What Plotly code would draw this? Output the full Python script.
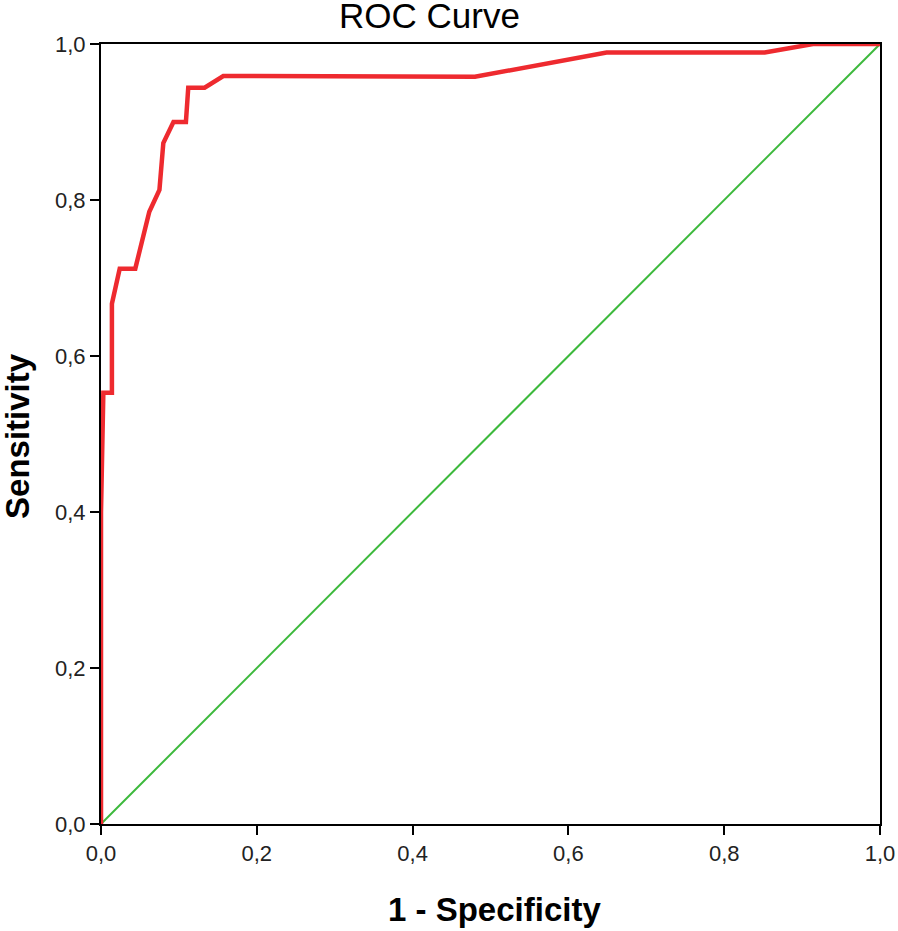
import plotly.graph_objects as go

# ROC curve points (1 - specificity, sensitivity)
fpr = [0.0, 0.0, 0.003, 0.014, 0.014, 0.024, 0.044, 0.062, 0.075, 0.080,
       0.093, 0.109, 0.112, 0.133, 0.157, 0.480, 0.649, 0.852, 0.914, 1.0]
tpr = [0.0, 0.40, 0.553, 0.553, 0.667, 0.712, 0.712, 0.785, 0.813, 0.873,
       0.900, 0.900, 0.944, 0.944, 0.959, 0.958, 0.989, 0.989, 1.0, 1.0]

ref_x = [0.0, 1.0]
ref_y = [0.0, 1.0]

tick_vals = [0.0, 0.2, 0.4, 0.6, 0.8, 1.0]
tick_text = ["0,0", "0,2", "0,4", "0,6", "0,8", "1,0"]

RED = "#ee2a2f"
GREEN = "#3cb93c"
FONT = "Liberation Sans, Arial, sans-serif"

fig = go.Figure()
fig.add_trace(go.Scatter(x=ref_x, y=ref_y, mode="lines",
                         line=dict(color=GREEN, width=2), showlegend=False))
fig.add_trace(go.Scatter(x=fpr, y=tpr, mode="lines",
                         line=dict(color=RED, width=4.5), showlegend=False))

axis_common = dict(
    range=[0, 1],
    tickvals=tick_vals,
    ticktext=tick_text,
    ticks="outside",
    ticklen=9,
    tickwidth=2,
    tickcolor="black",
    showline=True,
    linewidth=2,
    linecolor="black",
    mirror=True,
    showgrid=False,
    zeroline=False,
    automargin=False,
    tickfont=dict(family=FONT, size=22, color="#222"),
)

fig.update_xaxes(**axis_common)
fig.update_yaxes(**axis_common)

fig.add_annotation(text="ROC Curve", x=0.4223, y=1.036, xref="paper", yref="paper",
                   showarrow=False, font=dict(family=FONT, size=35, color="black"),
                   yanchor="middle", xanchor="center")
fig.add_annotation(text="<b>1 - Specificity</b>", x=0.505, y=-0.110, xref="paper", yref="paper",
                   showarrow=False, font=dict(family=FONT, size=33, color="black"),
                   yanchor="middle", xanchor="center")
fig.add_annotation(text="<b>Sensitivity</b>", x=-0.107, y=0.497, xref="paper", yref="paper",
                   showarrow=False, textangle=-90, font=dict(family=FONT, size=33, color="black"),
                   yanchor="middle", xanchor="center")

fig.update_layout(
    width=898, height=931,
    margin=dict(l=101, r=18, t=44, b=107, autoexpand=False),
    paper_bgcolor="white",
    plot_bgcolor="white",
    showlegend=False,
)

# drop the default 8px body margin so the figure sits at the page origin
fig.write_html(
    "out.html",
    config={"displayModeBar": False, "responsive": False},
    post_script="document.body.style.margin='0';document.body.style.overflow='hidden';",
)
